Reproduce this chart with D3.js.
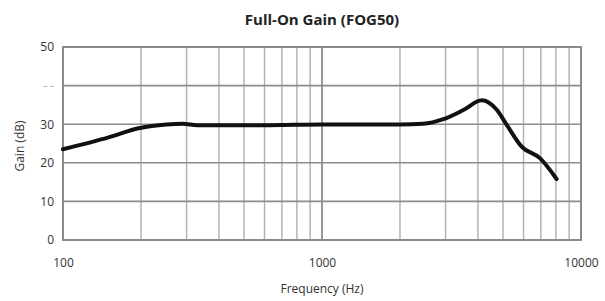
<!DOCTYPE html>
<html>
<head>
<meta charset="utf-8">
<script src="https://cdn.jsdelivr.net/npm/d3@7"></script>
<style>
  body { margin: 0; background: #fff; }
  text { font-family: "Open Sans", sans-serif; fill: #333; }
  .title { font-weight: bold; font-size: 15px; fill: #222; }
</style>
</head>
<body>
<svg id="fog"></svg>
<script>
// response curve
let freq = [100, 150, 198, 251, 290, 330, 500, 700, 1000, 1500, 2000, 2460, 2940, 3500, 4140, 4720, 5160, 5900, 6940, 8050];
let gain = [23.5, 26.6, 29.0, 29.9, 30.1, 29.7, 29.7, 29.8, 29.9, 29.9, 29.9, 30.1, 31.3, 33.6, 36.2, 33.8, 29.9, 24.2, 21.2, 15.8];

let yTicks = [0, 10, 20, 30, 40, 50];
let yTickLabels = ['0', '10', '20', '30', '- -', '50'];
let xTicks = [100, 1000, 10000];
let xTickLabels = ['100', '1000', '10000'];

let w = 605, h = 301;
let pLeft = 63, pRight = 581, pTop = 47, pBottom = 240;

let svg = d3.select('#fog')
  .attr('width', w)
  .attr('height', h);

let xScale = d3.scaleLog()
  .domain([100, 10000])
  .range([pLeft, pRight]);

let yScale = d3.scaleLinear()
  .domain([0, 50])
  .range([pBottom, pTop]);

// vertical grid, every 1-9 of each decade
let minor = [];
[100, 1000].forEach(function(dec) {
  for (let k = 2; k <= 9; k++) minor.push(dec * k);
});

svg.append('g')
  .selectAll('line')
  .data(minor)
  .enter()
  .append('line')
  .attr('x1', (d) => xScale(d))
  .attr('x2', (d) => xScale(d))
  .attr('y1', pTop)
  .attr('y2', pBottom)
  .attr('stroke', '#b4b4b4')
  .attr('stroke-width', 1.5);

svg.append('line')
  .attr('x1', xScale(1000))
  .attr('x2', xScale(1000))
  .attr('y1', pTop)
  .attr('y2', pBottom)
  .attr('stroke', '#999')
  .attr('stroke-width', 2);

// horizontal grid
svg.append('g')
  .selectAll('line')
  .data(yTicks.slice(1, -1))
  .enter()
  .append('line')
  .attr('x1', pLeft)
  .attr('x2', pRight)
  .attr('y1', (d) => yScale(d))
  .attr('y2', (d) => yScale(d))
  .attr('stroke', '#8c8c8c')
  .attr('stroke-width', 1.6);

// frame
svg.append('rect')
  .attr('x', pLeft)
  .attr('y', pTop)
  .attr('width', pRight - pLeft)
  .attr('height', pBottom - pTop)
  .attr('fill', 'none')
  .attr('stroke', '#8a8a8a')
  .attr('stroke-width', 2);

// the curve
let line = d3.line()
  .x((d, i) => xScale(freq[i]))
  .y((d, i) => yScale(gain[i]))
  .curve(d3.curveMonotoneX);

svg.append('path')
  .datum(gain)
  .attr('d', line)
  .attr('fill', 'none')
  .attr('stroke', '#111')
  .attr('stroke-width', 4)
  .attr('stroke-linejoin', 'round')
  .attr('stroke-linecap', 'round');

// AXES
let yAxis = d3.axisLeft(yScale)
  .tickValues(yTicks)
  .tickSize(0)
  .tickPadding(9)
  .tickFormat((d, i) => yTickLabels[i]);
let yAxisGroup = svg.append('g')
  .attr('transform', `translate(${pLeft}, 0)`)
  .call(yAxis);
yAxisGroup.select('.domain').remove();
yAxisGroup.selectAll('text')
  .style('font-size', '12px')
  .style('fill', (d) => d === 40 ? '#aaa' : '#333');

let xAxis = d3.axisBottom(xScale)
  .tickValues(xTicks)
  .tickSize(0)
  .tickPadding(18)
  .tickFormat((d, i) => xTickLabels[i]);
let xAxisGroup = svg.append('g')
  .attr('transform', `translate(0, ${pBottom})`)
  .call(xAxis);
xAxisGroup.select('.domain').remove();
xAxisGroup.selectAll('text')
  .style('font-size', '12px');

// labels
svg.append('text')
  .attr('class', 'title')
  .attr('x', 322)
  .attr('y', 25)
  .attr('text-anchor', 'middle')
  .text('Full-On Gain (FOG50)');

svg.append('text')
  .attr('x', 322)
  .attr('y', 293)
  .attr('text-anchor', 'middle')
  .style('font-size', '12px')
  .text('Frequency (Hz)');

svg.append('text')
  .attr('transform', 'rotate(-90)')
  .attr('x', -146)
  .attr('y', 24)
  .attr('text-anchor', 'middle')
  .style('font-size', '12px')
  .text('Gain (dB)');
</script>
</body>
</html>
